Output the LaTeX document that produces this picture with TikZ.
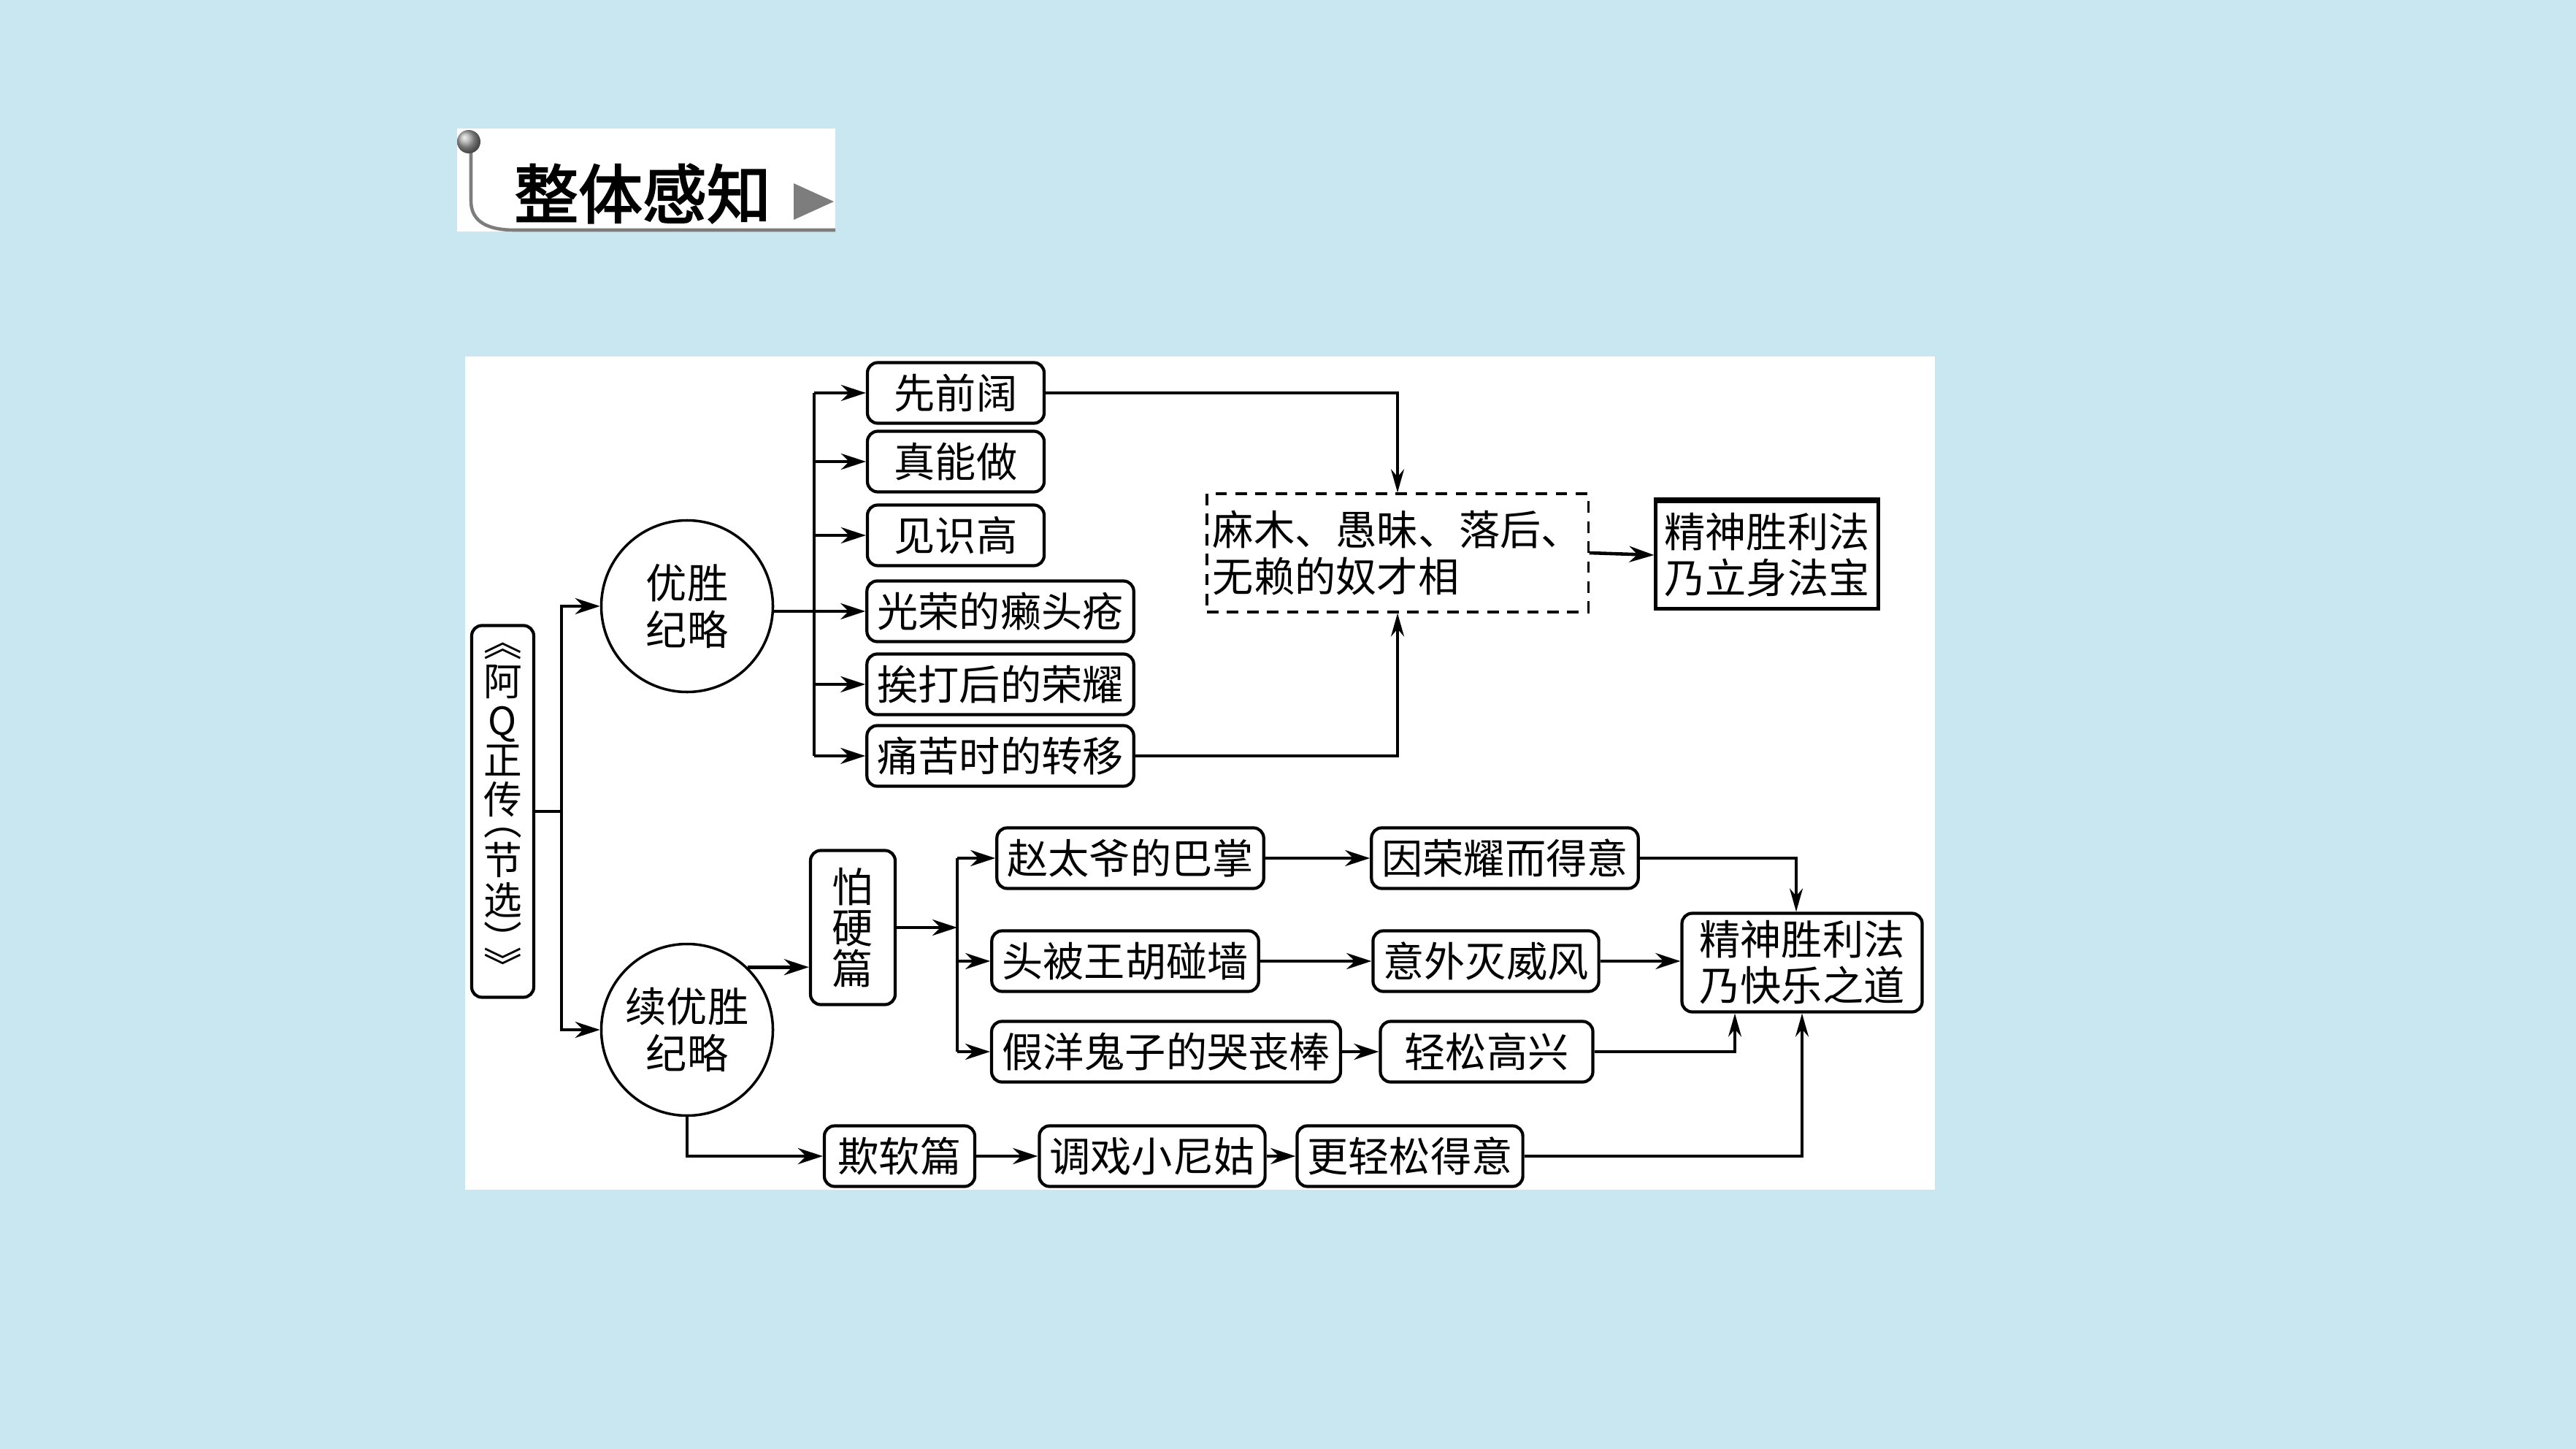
\documentclass[tikz,border=0pt]{standalone}
\usepackage{fontspec}
\newfontfamily\cjk[AutoFakeBold=2.5]{Noto Sans CJK SC}
\usepackage{xcolor}
\usetikzlibrary{arrows.meta,calc,positioning}
\definecolor{bgblue}{RGB}{200,231,241}
\definecolor{tgray}{RGB}{125,125,125}

\begin{document}
\begin{tikzpicture}[
  font=\cjk\fontsize{16}{18}\selectfont,
  box/.style={draw,line width=1.2pt,rounded corners=4pt,fill=white,inner xsep=0.14cm,inner ysep=0pt,minimum height=0.83cm},
  oval/.style={draw,line width=1pt,circle,minimum size=2.35cm,inner sep=0pt,align=center},
  link/.style={line width=1.3pt},
  arr/.style={link,-{Stealth[length=0.34cm,width=0.22cm]}},
  tarr/.style={line width=1pt,-{Stealth[length=0.32cm,width=0.18cm]}}]

  % page and panel
  \fill[bgblue] (0,0) rectangle (35.28,-19.84);
  \useasboundingbox (0,0) rectangle (35.28,-19.84);
  \fill[white] (6.37,-4.88) rectangle (26.50,-16.29);

  % heading
  \fill[white] (6.26,-1.76) rectangle (11.44,-3.17);
  \draw[tgray,line width=1.3pt] (6.45,-2.05) -- (6.45,-2.75)
    .. controls (6.45,-3.05) and (6.70,-3.15) .. (7.05,-3.15) -- (11.44,-3.15);
  \shade[ball color=gray!70] (6.42,-1.94) circle (0.16);
  \fill[tgray] (10.87,-2.51) -- (11.42,-2.76) -- (10.87,-3.01) -- cycle;
  \node[font=\cjk\bfseries\fontsize{25}{25}\selectfont] (ttl) at (8.80,-2.65) {整体感知};

  % left column
  \node[box,minimum width=0.85cm,minimum height=5.09cm,inner xsep=0pt,align=center,
    font=\cjk\fontsize{15}{15.4}\selectfont] (tq) at (6.885,-11.11)
    {︽\\阿\\Q\\正\\传\\[-7.2pt]︵\\节\\选\\︶\\[-5.2pt]︾};
  \node[oval] (yl) at (9.41,-8.30) {优胜\\纪略};
  \node[oval] (xy) at (9.41,-14.10) {续优胜\\纪略};

  % first branch
  \foreach \n/\x/\y/\w/\lab in {
     b1/13.09/5.38/2.42/先前阔,
     b2/13.09/6.32/2.42/真能做,
     b3/13.09/7.33/2.42/见识高,
     b4/13.70/8.37/3.64/光荣的癞头疮,
     b5/13.70/9.37/3.64/挨打后的荣耀,
     b6/13.70/10.35/3.64/痛苦时的转移}
  { \node[box,minimum width=\w cm] (\n) at (\x,-\y) {\lab}; }

  \node[draw,line width=0.9pt,dash pattern=on 4.5pt off 3.3pt,align=left,
    minimum width=5.2cm,minimum height=1.62cm,inner xsep=0.08cm] (mm) at (19.14,-7.57)
    {麻木、愚昧、落后、\\无赖的奴才相};
  \node[draw,line width=1.2pt,minimum width=3.05cm,minimum height=1.47cm,align=center] (ls)
    at (24.20,-7.60) {精神胜利法\\乃立身法宝};
  \draw[line width=2pt] (ls.north west) -- (ls.north east);

  % second branch
  \node[box,minimum width=1.16cm,minimum height=2.11cm,inner xsep=0pt,align=center,
    font=\cjk\fontsize{16}{16}\selectfont] (pyp) at (11.68,-12.70) {怕\\硬\\篇};
  \foreach \n/\x/\y/\w/\lab in {
     zt/15.48/11.75/3.60/赵太爷的巴掌,
     tb/15.41/13.16/3.54/头被王胡碰墙,
     jy/15.97/14.40/4.77/假洋鬼子的哭丧棒,
     yr/20.61/11.75/3.60/因荣耀而得意,
     yw/20.35/13.16/3.09/意外灭威风,
     qs/20.36/14.40/2.91/轻松高兴,
     qr/12.32/15.83/2.06/欺软篇,
     tx/15.78/15.83/2.99/调戏小尼姑,
     gq/19.31/15.83/2.98/更轻松得意}
  { \node[box,minimum width=\w cm] (\n) at (\x,-\y) {\lab}; }
  \node[box,minimum width=3.29cm,minimum height=1.35cm,align=center] (kl)
    at (24.68,-13.18) {精神胜利法\\乃快乐之道};

  % connectors
  \coordinate (trk) at (7.69,-11.11);
  \coordinate (br1) at (11.15,-8.37);
  \coordinate (br2) at (13.11,-12.70);
  \draw[link] (tq.east) -- (trk);
  \draw[arr] (trk) |- (yl.west);
  \draw[arr] (trk) |- (xy.west);
  \draw[link] (yl.east |- b4.west) -- (br1);
  \draw[link] (b1.west -| br1) -- (b6.west -| br1);
  \foreach \n in {b1,b2,b3,b4,b5,b6}
    \draw[arr] (\n.west -| br1) -- (\n.west);
  \draw[tarr] (b1.east) -| (mm.north);
  \draw[tarr] (b6.east) -| (mm.south);
  \draw[arr] (mm.east) -- (ls.west);

  \draw[arr] (xy.46) -- (xy.46 -| pyp.west);
  \draw[arr] (pyp.east) -- (br2);
  \draw[link] (zt.west -| br2) -- (jy.west -| br2);
  \foreach \n in {zt,tb,jy}
    \draw[arr] (\n.west -| br2) -- (\n.west);
  \draw[arr] (zt) -- (yr);
  \draw[arr] (tb) -- (yw);
  \draw[arr] (jy) -- (qs);
  \draw[tarr] (yr.east) -| ([xshift=-0.08cm]kl.north);
  \draw[arr] (yw.east) -- (yw.east -| kl.west);
  \draw[tarr] (qs.east) -| ([xshift=-0.92cm]kl.south);
  \draw[arr] (xy.south) |- (qr.west);
  \draw[arr] (qr) -- (tx);
  \draw[arr] (tx) -- (gq);
  \draw[tarr] (gq.east) -| (kl.south);
\end{tikzpicture}
\end{document}
